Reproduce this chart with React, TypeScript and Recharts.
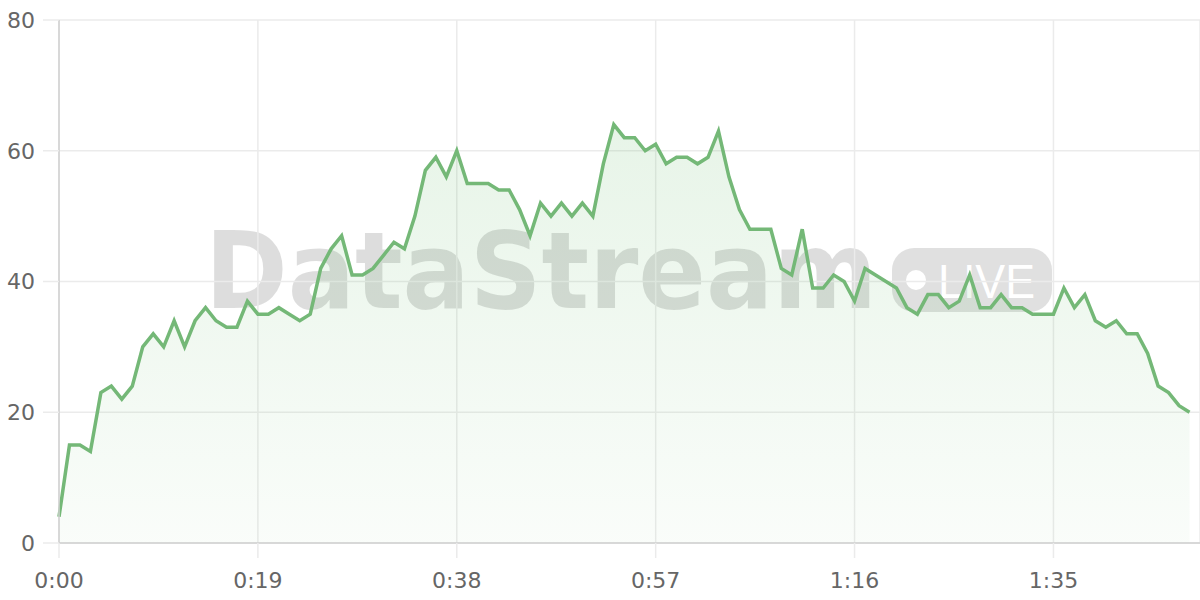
import React from "react";
import { AreaChart, Area, XAxis, YAxis, CartesianGrid } from "recharts";

const seconds: number[] = Array.from({ length: 109 }, (_, i) => i);
const values: number[] = [
  4, 15, 15, 14, 23, 24, 22, 24, 30, 32,
  30, 34, 30, 34, 36, 34, 33, 33, 37, 35,
  35, 36, 35, 34, 35, 42, 45, 47, 41, 41,
  42, 44, 46, 45, 50, 57, 59, 56, 60, 55,
  55, 55, 54, 54, 51, 47, 52, 50, 52, 50,
  52, 50, 58, 64, 62, 62, 60, 61, 58, 59,
  59, 58, 59, 63, 56, 51, 48, 48, 48, 42,
  41, 48, 39, 39, 41, 40, 37, 42, 41, 40,
  39, 36, 35, 38, 38, 36, 37, 41, 36, 36,
  38, 36, 36, 35, 35, 35, 39, 36, 38, 34,
  33, 34, 32, 32, 29, 24, 23, 21, 20,
];
const xTicks: number[] = [0, 19, 38, 57, 76, 95];
const yTicks: number[] = [0, 20, 40, 60, 80];

const data = seconds.map((t, i) => ({ t, v: values[i] }));

const fmt = (t: number) => `${Math.floor(t / 60)}:${String(t % 60).padStart(2, "0")}`;

const tickStyle = { fill: "#666666", fontSize: 22, fontFamily: "'DejaVu Sans', sans-serif" };

export default function App() {
  return (
    <div style={{ position: "absolute", left: 0, top: 0, width: 1200, height: 600, background: "#fff" }}>
      <svg width={1200} height={600} style={{ position: "absolute", left: 0, top: 0 }}>
        <text
          x={205}
          y={308}
          fontFamily="'DejaVu Sans', sans-serif"
          fontWeight={700}
          fontSize={107}
          textLength={672}
          lengthAdjust="spacingAndGlyphs"
          fill="rgba(0,0,0,0.135)"
        >
          DataStream
        </text>
        <rect x={892} y={248} width={160} height={64} rx={22} fill="rgba(0,0,0,0.12)" />
        <circle cx={916} cy={280} r={10} fill="#ffffff" />
        <text
          x={938}
          y={298}
          fontFamily="'Liberation Sans', Arial, sans-serif"
          fontSize={49}
          textLength={97}
          lengthAdjust="spacingAndGlyphs"
          fill="#ffffff"
        >
          LIVE
        </text>
      </svg>
      <div style={{ position: "absolute", left: 0, top: 0 }}>
        <AreaChart width={1200} height={600} data={data} margin={{ top: 20, right: 0, bottom: 0, left: 0 }}>
          <defs>
            <linearGradient id="fillGrad" x1="0" y1="0" x2="0" y2="1">
              <stop offset="0%" stopColor="#4caf50" stopOpacity={0.22} />
              <stop offset="100%" stopColor="#4caf50" stopOpacity={0.05} />
            </linearGradient>
          </defs>
          <CartesianGrid stroke="#ebebeb" strokeWidth={1.5} />
          <XAxis
            dataKey="t"
            type="number"
            domain={[0, 109]}
            ticks={xTicks}
            tickFormatter={fmt}
            height={57}
            tickSize={15}
            tickMargin={14}
            axisLine={{ stroke: "#d0d0d0", strokeWidth: 1.5 }}
            tickLine={{ stroke: "#ebebeb", strokeWidth: 1.5 }}
            tick={tickStyle}
            interval={0}
          />
          <YAxis
            domain={[0, 80]}
            ticks={yTicks}
            width={59}
            tickSize={16}
            tickMargin={8}
            axisLine={{ stroke: "#d0d0d0", strokeWidth: 1.5 }}
            tickLine={{ stroke: "#ebebeb", strokeWidth: 1.5 }}
            tick={tickStyle}
            interval={0}
          />
          <Area
            type="linear"
            dataKey="v"
            stroke="#74b877"
            strokeWidth={3.5}
            fill="url(#fillGrad)"
            isAnimationActive={false}
            dot={false}
            activeDot={false}
          />
        </AreaChart>
      </div>
    </div>
  );
}
